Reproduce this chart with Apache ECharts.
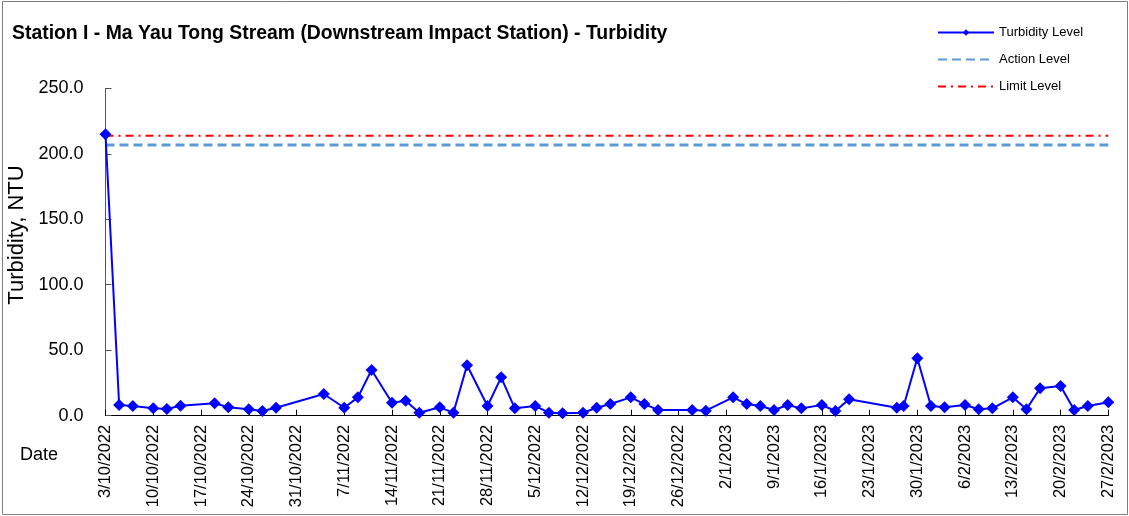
<!DOCTYPE html>
<html>
<head>
<meta charset="utf-8">
<script src="https://cdn.jsdelivr.net/npm/echarts@6/dist/echarts.min.js"></script>
<style>
  html, body { margin: 0; padding: 0; background: #fff; }
  #chart { width: 1129px; height: 516px; }
</style>
</head>
<body>
<div id="chart"></div>
<script>
// Sampling dates (d/m/yyyy) and measured turbidity (NTU)
const sampleDates = [
  '3/10/2022', '5/10/2022', '7/10/2022', '10/10/2022', '12/10/2022', '14/10/2022',
  '19/10/2022', '21/10/2022', '24/10/2022', '26/10/2022', '28/10/2022',
  '4/11/2022', '7/11/2022', '9/11/2022', '11/11/2022', '14/11/2022', '16/11/2022',
  '18/11/2022', '21/11/2022', '23/11/2022', '25/11/2022', '28/11/2022', '30/11/2022',
  '2/12/2022', '5/12/2022', '7/12/2022', '9/12/2022', '12/12/2022', '14/12/2022',
  '16/12/2022', '19/12/2022', '21/12/2022', '23/12/2022', '28/12/2022', '30/12/2022',
  '3/1/2023', '5/1/2023', '7/1/2023', '9/1/2023', '11/1/2023', '13/1/2023',
  '16/1/2023', '18/1/2023', '20/1/2023', '27/1/2023', '28/1/2023', '30/1/2023',
  '1/2/2023', '3/2/2023', '6/2/2023', '8/2/2023', '10/2/2023', '13/2/2023',
  '15/2/2023', '17/2/2023', '20/2/2023', '22/2/2023', '24/2/2023', '27/2/2023'
];
const turbidity = [
  215.0, 8.2, 7.4, 5.6, 5.1, 7.6,
  9.5, 6.4, 4.9, 3.6, 6.1,
  16.6, 6.1, 14.0, 34.9, 9.9, 11.5,
  2.3, 6.4, 2.3, 38.5, 7.4, 29.3,
  5.6, 7.4, 2.3, 1.8, 2.3, 6.1,
  8.9, 14.0, 8.9, 4.4, 4.4, 3.8,
  14.0, 8.9, 7.4, 4.4, 8.2, 5.6,
  8.2, 3.6, 12.5, 6.1, 7.4, 43.8,
  7.4, 6.4, 8.2, 4.9, 5.6, 14.0,
  4.9, 20.9, 22.7, 4.4, 7.4, 10.2
];
const actionLevel = 206.7;
const limitLevel = 213.8;
const axisStart = '3/10/2022';
const axisEnd = '27/2/2023';
const yTicks = [0, 50, 100, 150, 200, 250];

const DAY = 86400000;
function parseDmy(s) {
  const p = s.split('/').map(Number);
  return Date.UTC(p[2], p[1] - 1, p[0]);
}
const t0 = parseDmy(axisStart);
function dayOf(s) { return Math.round((parseDmy(s) - t0) / DAY); }
function labelOf(d) {
  const dt = new Date(t0 + d * DAY);
  return dt.getUTCDate() + '/' + (dt.getUTCMonth() + 1) + '/' + dt.getUTCFullYear();
}
const xMax = dayOf(axisEnd);

const turbSeries = sampleDates.map((s, i) => [dayOf(s), turbidity[i]]);

const chart = echarts.init(document.getElementById('chart'), null, { renderer: 'canvas' });
const font = 'Arial, "Liberation Sans", sans-serif';

chart.setOption({
  animation: false,
  backgroundColor: '#ffffff',
  textStyle: { fontFamily: font, color: '#000' },
  title: {
    text: 'Station I - Ma Yau Tong Stream (Downstream Impact Station) - Turbidity',
    left: 7, top: 19,
    textStyle: { fontFamily: font, fontSize: 19.4, fontWeight: 'bold', color: '#000' }
  },
  legend: {
    orient: 'vertical',
    left: 932, top: 21,
    itemWidth: 56, itemHeight: 8, itemGap: 14,
    textStyle: { fontFamily: font, fontSize: 13, color: '#000' },
    data: [
      { name: 'Turbidity Level' },
      { name: 'Action Level', itemStyle: { opacity: 0 } },
      { name: 'Limit Level', itemStyle: { opacity: 0 } }
    ]
  },
  grid: {
    left: 105.5, right: 20.7, top: 88.3, bottom: 100.3,
    containLabel: false, outerBoundsMode: 'none'
  },
  xAxis: {
    type: 'value',
    min: 0, max: xMax, interval: 7,
    axisLine: { lineStyle: { color: '#000', width: 1 } },
    axisTick: { show: true, inside: true, length: 6, lineStyle: { color: '#000' } },
    splitLine: { show: false },
    axisLabel: {
      rotate: 90, margin: 9,
      fontFamily: font, fontSize: 16.5, color: '#000',
      formatter: v => labelOf(v)
    }
  },
  yAxis: {
    type: 'value',
    min: yTicks[0], max: yTicks[yTicks.length - 1], interval: yTicks[1] - yTicks[0],
    name: 'Turbidity, NTU',
    nameLocation: 'middle', nameGap: 69,
    nameTextStyle: { fontFamily: font, fontSize: 22, color: '#000', padding: [0, 0, 0, 34] },
    axisLine: { show: true, lineStyle: { color: '#555', width: 1 } },
    axisTick: { show: true, inside: true, length: 6, lineStyle: { color: '#555' } },
    splitLine: { show: false },
    axisLabel: {
      margin: 22, fontFamily: font, fontSize: 18, color: '#000',
      formatter: v => v.toFixed(1)
    }
  },
  graphic: [
    {
      type: 'rect', silent: true,
      shape: { x: 2.5, y: 1.5, width: 1125, height: 513 },
      style: { fill: 'none', stroke: '#7f7f7f', lineWidth: 1 }
    },
    {
      type: 'text', left: 20, top: 446,
      style: { text: 'Date', font: '18px ' + font, fill: '#000' }
    }
  ],
  series: [
    {
      name: 'Limit Level',
      type: 'line',
      data: [[0, limitLevel], [xMax, limitLevel]],
      showSymbol: false, symbol: 'none',
      lineStyle: { color: '#ff0000', width: 2, type: [8, 5, 2, 5] },
      itemStyle: { color: '#ff0000' },
      z: 2
    },
    {
      name: 'Action Level',
      type: 'line',
      data: [[0, actionLevel], [xMax, actionLevel]],
      showSymbol: false, symbol: 'none',
      lineStyle: { color: '#5b9bd5', width: 3, type: [9, 5] },
      itemStyle: { color: '#5b9bd5' },
      z: 2
    },
    {
      name: 'Turbidity Level',
      type: 'line',
      data: turbSeries,
      symbol: 'diamond', symbolSize: 12,
      lineStyle: { color: '#0000ff', width: 2 },
      itemStyle: { color: '#0000ff' },
      z: 3
    }
  ]
});
</script>
</body>
</html>
